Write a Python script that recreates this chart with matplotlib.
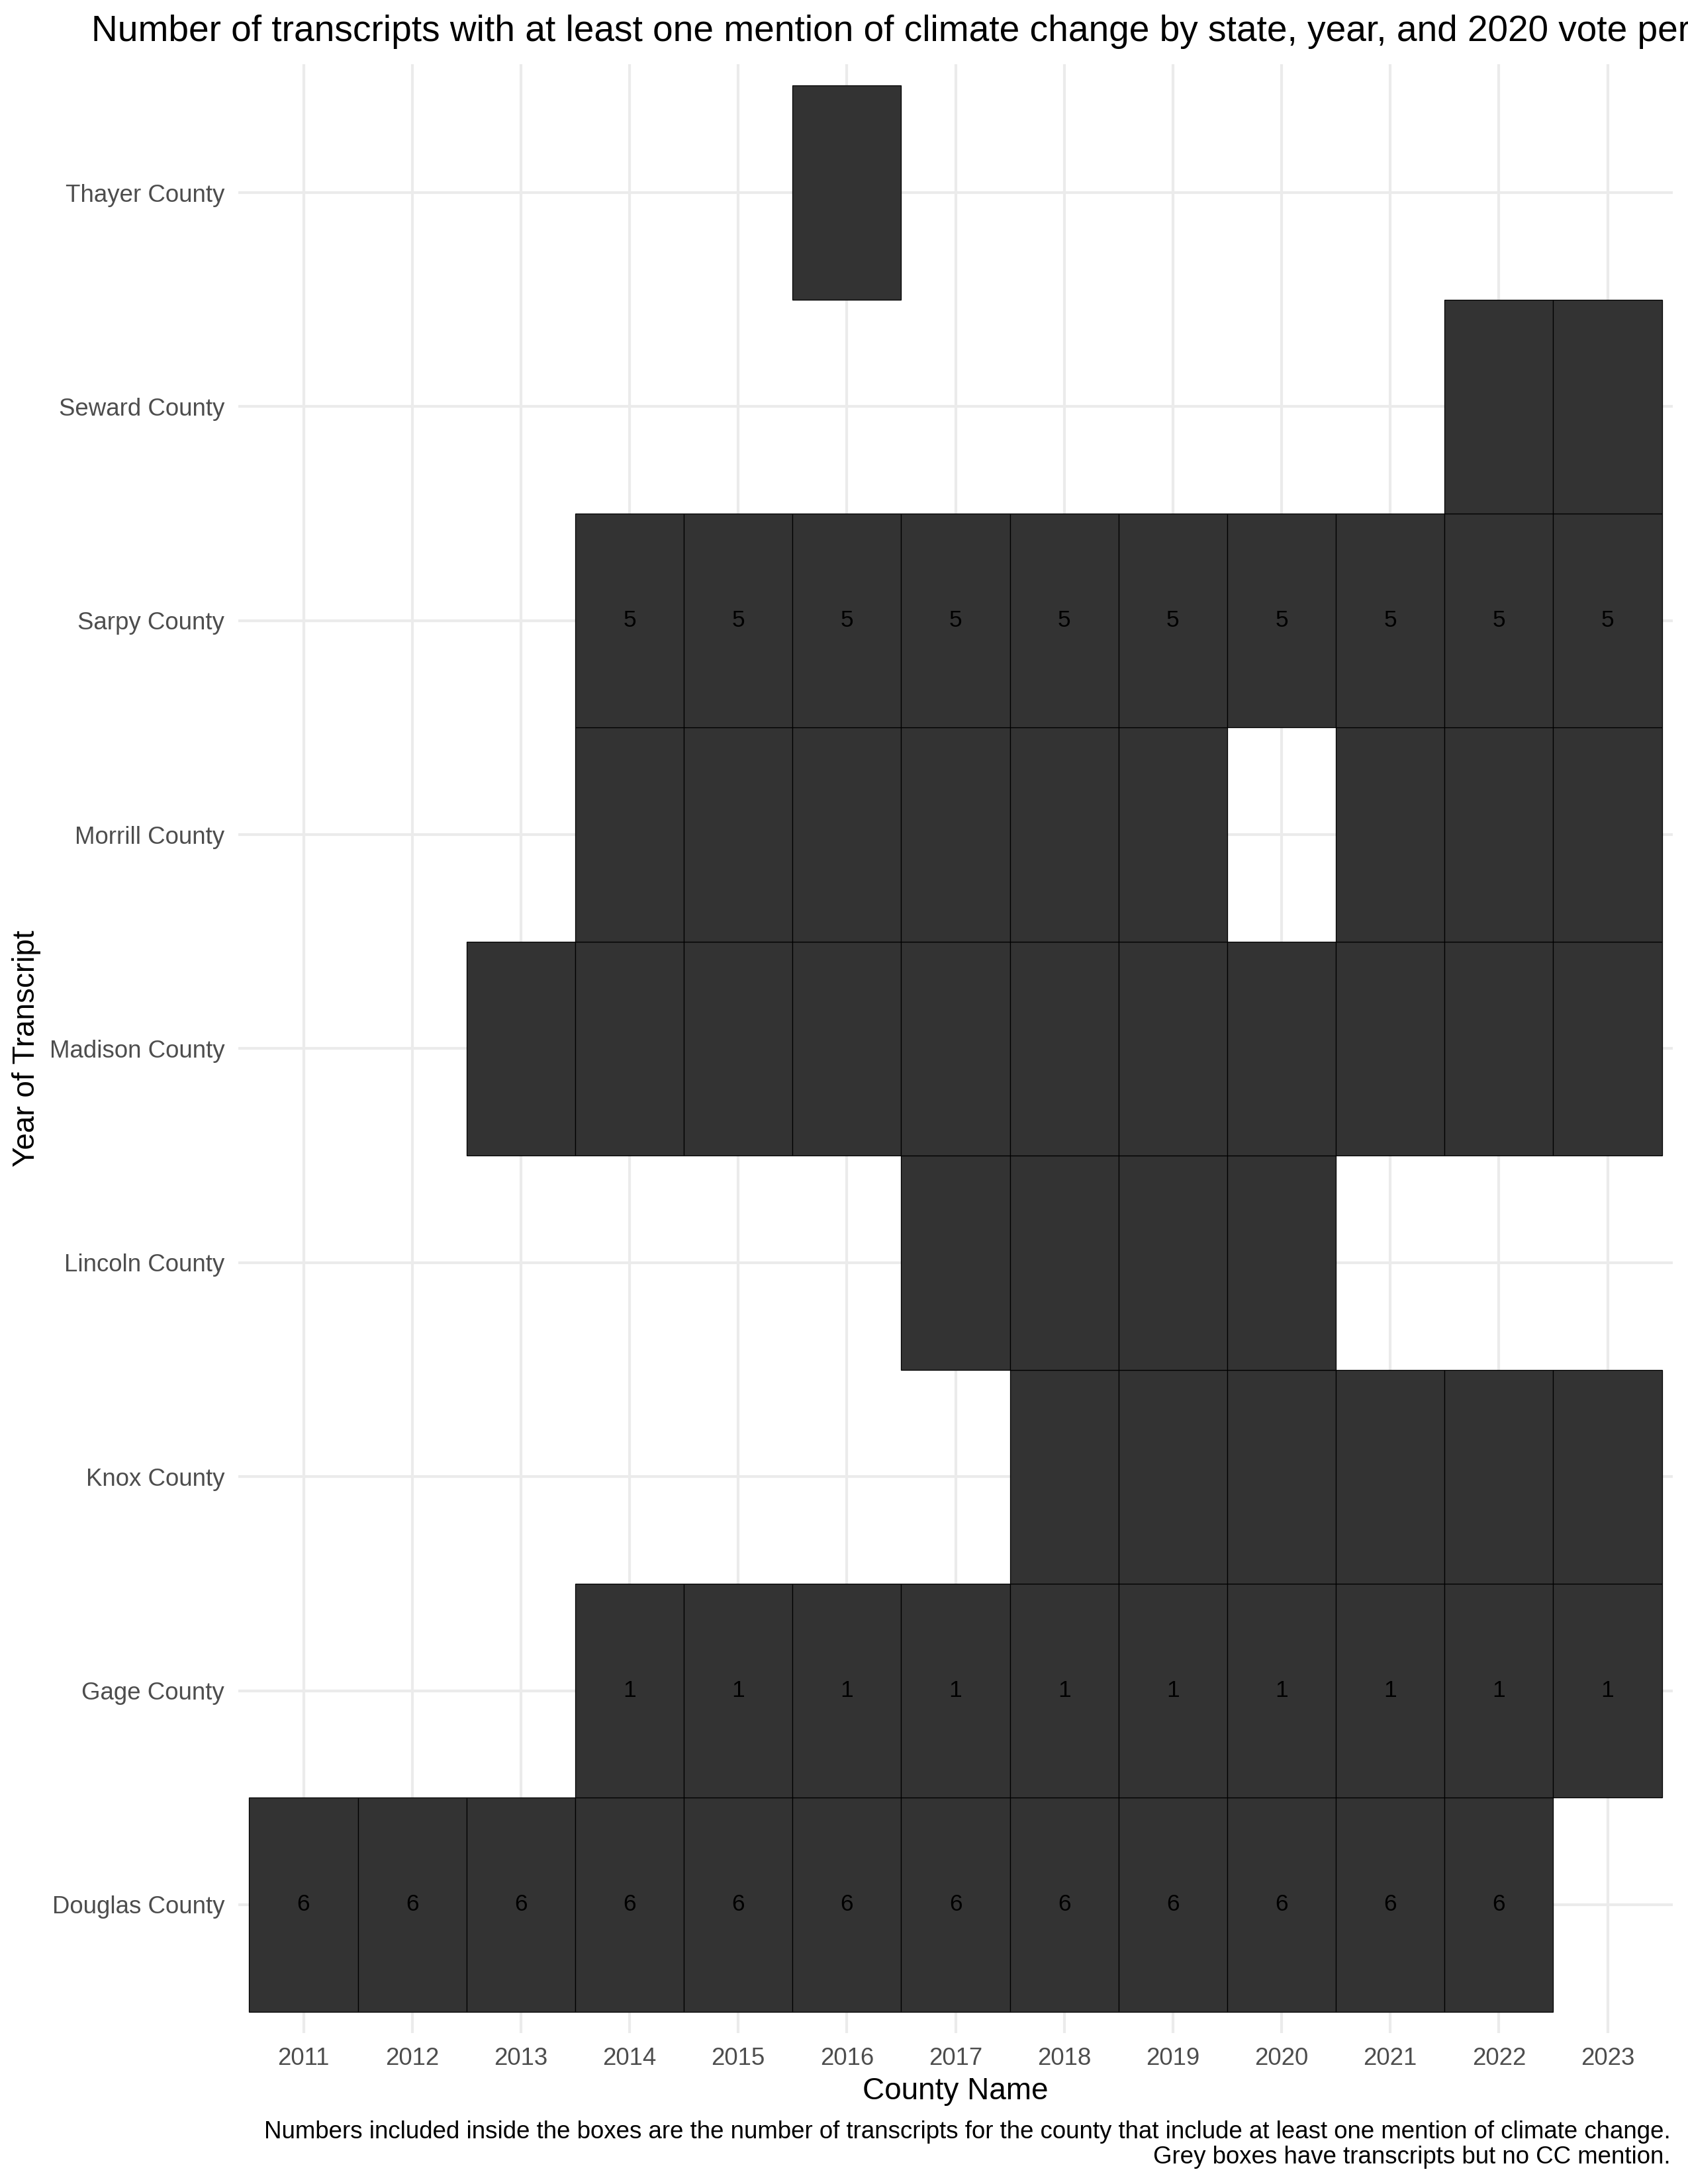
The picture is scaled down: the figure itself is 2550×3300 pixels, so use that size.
import matplotlib.pyplot as plt
import numpy as np

# datos del grafico
years = [2011, 2012, 2013, 2014, 2015, 2016, 2017, 2018, 2019, 2020, 2021, 2022, 2023]
counties = ["Douglas County", "Gage County", "Knox County", "Lincoln County", "Madison County",
            "Morrill County", "Sarpy County", "Seward County", "Thayer County"]

# anos con transcripciones por condado
douglas_years = [2011, 2012, 2013, 2014, 2015, 2016, 2017, 2018, 2019, 2020, 2021, 2022]
gage_years = [2014, 2015, 2016, 2017, 2018, 2019, 2020, 2021, 2022, 2023]
knox_years = [2018, 2019, 2020, 2021, 2022, 2023]
lincoln_years = [2017, 2018, 2019, 2020]
madison_years = [2013, 2014, 2015, 2016, 2017, 2018, 2019, 2020, 2021, 2022, 2023]
morrill_years = [2014, 2015, 2016, 2017, 2018, 2019, 2021, 2022, 2023]
sarpy_years = [2014, 2015, 2016, 2017, 2018, 2019, 2020, 2021, 2022, 2023]
seward_years = [2022, 2023]
thayer_years = [2016]

# numero de transcripciones con mencion (None = sin numero)
douglas_counts = [6] * 12
gage_counts = [1] * 10
sarpy_counts = [5] * 10

county_years = [douglas_years, gage_years, knox_years, lincoln_years, madison_years,
                morrill_years, sarpy_years, seward_years, thayer_years]
county_counts = [douglas_counts, gage_counts, None, None, None, None, sarpy_counts, None, None]

W, H = 2550, 3300
fig = plt.figure(figsize=(8.5, 11), dpi=300)
plt.rcParams['font.family'] = ['Liberation Sans', 'DejaVu Sans']

left, right, top, bottom = 360, 2527, 97, 3072
ax = fig.add_axes([left / W, 1 - bottom / H, (right - left) / W, (bottom - top) / H])

for row, (yrs, cnts) in enumerate(zip(county_years, county_counts)):
    xs = [years.index(y) for y in yrs]
    ax.bar(xs, 1, bottom=row - 0.5, width=1, color='#333333', edgecolor='black',
           linewidth=0.3, zorder=2)
    if cnts is not None:
        for x, c in zip(xs, cnts):
            ax.text(x, row, str(c), ha='center', va='center', fontsize=8.5,
                    color='black', zorder=3)

ax.set_xlim(-0.6, len(years) - 0.4)
ax.set_ylim(-0.6, len(counties) - 0.4)
ax.set_xticks(range(len(years)))
ax.set_xticklabels([str(y) for y in years])
ax.set_yticks(range(len(counties)))
ax.set_yticklabels(counties)
ax.tick_params(length=0, labelsize=8.8, labelcolor='#4D4D4D')
ax.tick_params(axis='y', pad=5)
ax.tick_params(axis='x', pad=5)
ax.grid(True, color='#EBEBEB', linewidth=1.0, zorder=0)
ax.set_axisbelow(True)
for s in ax.spines.values():
    s.set_visible(False)

cx = (left + right) / 2 / W
fig.text(cx, 1 - 62 / H,
         "Number of transcripts with at least one mention of climate change by state, year, and 2020 vote percentage",
         ha='center', va='baseline', fontsize=13.2, color='black')
fig.text(cx, 1 - 3172 / H, "County Name", ha='center', va='baseline', fontsize=11)
fig.text(40 / W, 1 - (top + bottom) / 2 / H, "Year of Transcript", rotation=90,
         ha='center', va='center', fontsize=11)
fig.text(2524 / W, 1 - 3231 / H,
         "Numbers included inside the boxes are the number of transcripts for the county that include at least one mention of climate change.",
         ha='right', va='baseline', fontsize=8.8)
fig.text(2524 / W, 1 - 3269 / H, "Grey boxes have transcripts but no CC mention.",
         ha='right', va='baseline', fontsize=8.8)

fig.savefig("out.png", dpi=300)
